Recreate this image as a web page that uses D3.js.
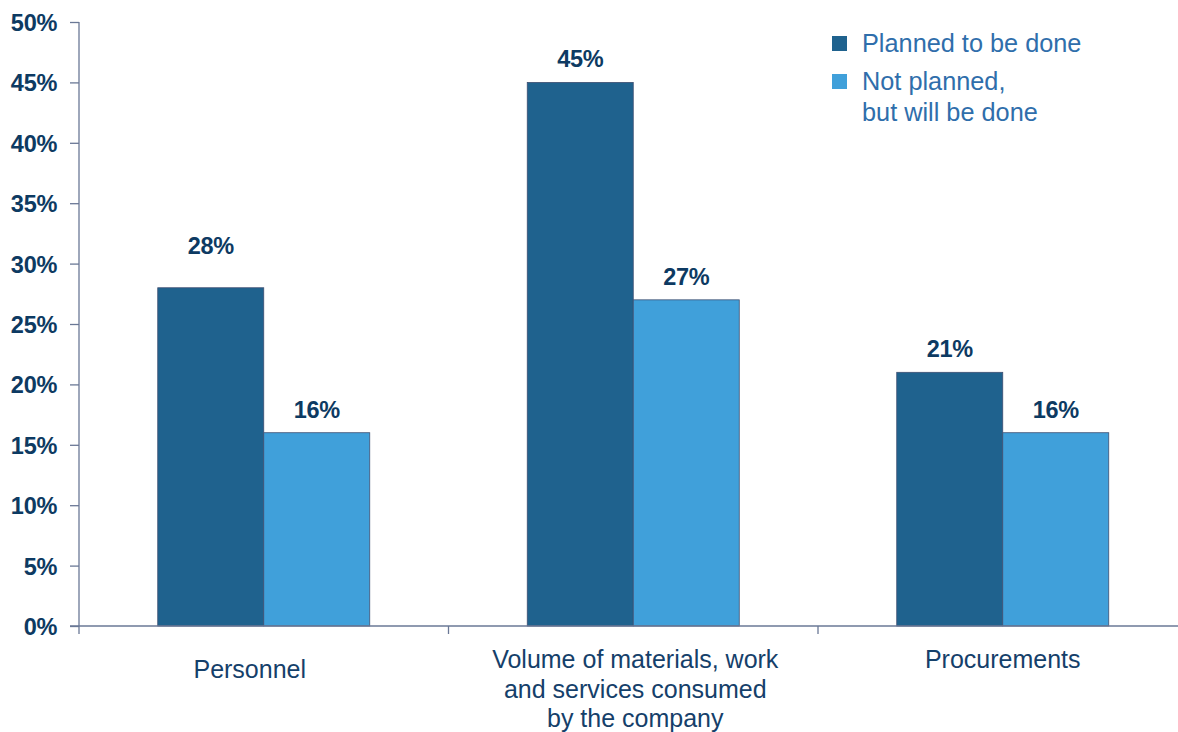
<!DOCTYPE html>
<html>
<head>
<meta charset="utf-8">
<script src="https://cdn.jsdelivr.net/npm/d3@7/dist/d3.min.js"></script>
<style>
  html, body { margin: 0; padding: 0; background: #ffffff; }
  svg { display: block; font-family: "Liberation Sans", Arial, Helvetica, sans-serif; }
</style>
</head>
<body>
<svg id="chart" width="1178" height="732"></svg>
<script>
// Share of companies by area of cost optimisation
const categories = [
  ["Personnel"],
  ["Volume of materials, work", "and services consumed", "by the company"],
  ["Procurements"]
];
const seriesNames = ["Planned to be done", "Not planned,\nbut will be done"];
const planned    = [28, 45, 21];
const notPlanned = [16, 27, 16];
const yTicks = [0, 5, 10, 15, 20, 25, 30, 35, 40, 45, 50];

const colors = ["#1f628e", "#40a0da"];
const axisColor = "#6a7896";
const darkText = "#0d3a62";
const legendText = "#2f6eab";

const svg = d3.select("#chart");
const margin = { left: 79, top: 22, bottom: 626, right: 1187.5 };

const y = d3.scaleLinear().domain([0, 50]).range([margin.bottom, margin.top]);
const x0 = d3.scaleBand().domain(d3.range(categories.length))
  .range([margin.left, margin.right]).paddingInner(0).paddingOuter(0);
const groupW = 212;
const x1 = d3.scaleBand().domain([0, 1])
  .range([(x0.bandwidth() - groupW) / 2, (x0.bandwidth() + groupW) / 2]);

const rows = categories.map((c, i) => [planned[i], notPlanned[i]]);

// bars
const groups = svg.append("g").selectAll("g").data(rows).join("g")
  .attr("transform", (d, i) => `translate(${x0(i)},0)`);

groups.selectAll("rect").data(d => d).join("rect")
  .attr("x", (d, j) => x1(j))
  .attr("y", d => y(d))
  .attr("width", x1.bandwidth())
  .attr("height", d => y(0) - y(d))
  .attr("fill", (d, j) => colors[j])
  .attr("stroke", "#3e4f72")
  .attr("stroke-width", 0.8);

// value labels
const labelLift = (d, i, j) => (i === 0 && j === 0) ? 34 : 15;
groups.each(function (row, i) {
  d3.select(this).selectAll("text.val").data(row).join("text")
    .attr("class", "val")
    .attr("x", (d, j) => x1(j) + x1.bandwidth() / 2)
    .attr("y", (d, j) => y(d) - labelLift(d, i, j))
    .attr("text-anchor", "middle")
    .attr("fill", darkText)
    .attr("font-weight", "bold")
    .attr("font-size", 23.5)
    .attr("letter-spacing", -0.3)
    .text(d => d + "%");
});

// y axis
const yAxis = d3.axisLeft(y).tickValues(yTicks).tickSize(9).tickPadding(13)
  .tickFormat(d => d + "%");
const yg = svg.append("g").attr("transform", `translate(${margin.left},0)`).call(yAxis);
yg.select(".domain").attr("stroke", axisColor).attr("stroke-width", 1.3).attr("d", `M0,${margin.top}V${margin.bottom}`);
yg.selectAll(".tick line").attr("stroke", axisColor).attr("stroke-width", 1.3);
yg.selectAll(".tick text")
  .attr("fill", darkText).attr("font-size", 23.5).attr("font-weight", "bold")
  .attr("letter-spacing", -0.3)
  .attr("font-family", "'Liberation Sans', Arial, sans-serif")
  .attr("dy", "0.36em");

// x axis
const boundaries = d3.range(categories.length + 1).map(i => i === categories.length ? margin.right : x0(i));
const xg = svg.append("g");
xg.append("line")
  .attr("x1", margin.left - 9).attr("x2", 1178)
  .attr("y1", y(0)).attr("y2", y(0))
  .attr("stroke", axisColor).attr("stroke-width", 1.3);
xg.selectAll("line.tick").data(boundaries).join("line")
  .attr("class", "tick")
  .attr("x1", d => d).attr("x2", d => d)
  .attr("y1", y(0)).attr("y2", y(0) + 8)
  .attr("stroke", axisColor).attr("stroke-width", 1.3);

// category labels
const catNudge = [{ dx: -14, dy: 10 }, { dx: 2, dy: 0 }, { dx: 0, dy: 0 }];
const catText = svg.append("g").selectAll("text").data(categories).join("text")
  .attr("text-anchor", "middle")
  .attr("fill", "#15406a")
  .attr("font-size", 25)
  .attr("transform", (d, i) => `translate(${x0(i) + x0.bandwidth() / 2 + catNudge[i].dx},${668 + catNudge[i].dy})`);
catText.selectAll("tspan").data(d => d).join("tspan")
  .attr("x", 0)
  .attr("y", (d, k) => k * 29.5)
  .text(d => d);

// legend
const legend = svg.append("g").attr("transform", "translate(832,36)");
const legendRows = seriesNames.map((s, j) => ({ lines: s.split("\n"), color: colors[j] }));
const li = legend.selectAll("g").data(legendRows).join("g")
  .attr("transform", (d, j) => `translate(0,${j * 38})`);
li.append("rect").attr("width", 15).attr("height", 15).attr("fill", d => d.color);
const lt = li.append("text").attr("fill", legendText).attr("font-size", 25.3);
lt.selectAll("tspan").data(d => d.lines).join("tspan")
  .attr("x", 30).attr("y", (d, k) => 16 + k * 31)
  .text(d => d);
</script>
</body>
</html>
